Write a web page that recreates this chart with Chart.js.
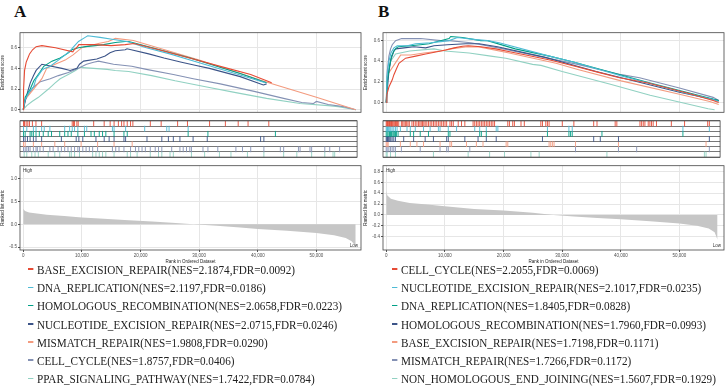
<!DOCTYPE html>
<html>
<head>
<meta charset="utf-8">
<script src="https://cdn.jsdelivr.net/npm/chart.js@4.4.1/dist/chart.umd.min.js"></script>
<style>
  body { margin: 0; width: 726px; height: 390px; background: #fff; position: relative; overflow: hidden; font-family: "Liberation Serif", serif; }
  canvas { position: absolute; }
  .tag { position: absolute; font-weight: bold; font-size: 17px; line-height: 17px; color: #111; }
  .leg { position: absolute; font-size: 12.5px; line-height: 14px; color: #222; white-space: nowrap; transform: scaleX(0.895); transform-origin: 0 50%; }
  .leg i { display: inline-block; width: 5.5px; height: 1.6px; margin-right: 4.5px; vertical-align: 4px; }
</style>
</head>
<body>
<div class="tag" style="left:14px;top:3px">A</div>
<div class="tag" style="left:378px;top:3px">B</div>

<canvas id="esA" width="362" height="87" style="left:0;top:29px"></canvas>
<canvas id="hitsA" width="362" height="46" style="left:0;top:116px"></canvas>
<canvas id="rankA" width="362" height="102" style="left:0;top:162px"></canvas>

<canvas id="esB" width="362" height="87" style="left:363px;top:29px"></canvas>
<canvas id="hitsB" width="362" height="46" style="left:363px;top:116px"></canvas>
<canvas id="rankB" width="362" height="102" style="left:363px;top:162px"></canvas>

<div id="legA"></div>
<div id="legB"></div>

<script>
// ---- shared ----
const colours = ['#E64B35', '#4DBBD5', '#00A087', '#3C5488', '#F39B7F', '#8491B4', '#91D1C2'];
const xTicks = [0, 10000, 20000, 30000, 40000, 50000];
const esTicks = [0, 0.2, 0.4, 0.6];
const rankTicksA = [-0.5, 0, 0.5, 1.0];
const rankTicksB = [-0.4, -0.2, 0, 0.2, 0.4, 0.6, 0.8];

// ---- panel A ----
const namesA = ['BASE_EXCISION_REPAIR', 'DNA_REPLICATION', 'HOMOLOGOUS_RECOMBINATION', 'NUCLEOTIDE_EXCISION_REPAIR', 'MISMATCH_REPAIR', 'CELL_CYCLE', 'PPAR_SIGNALING_PATHWAY'];
const nesA = ['2.1874', '2.1197', '2.0658', '2.0715', '1.9808', '1.8757', '1.7422'];
const fdrA = ['0.0092', '0.0186', '0.0223', '0.0246', '0.0290', '0.0406', '0.0784'];

const esA_BER = [[0,0],[60,0.2],[230,0.38],[510,0.46],[800,0.5],[1080,0.54],[1590,0.58],[2200,0.61],[3180,0.62],[5500,0.6],[8460,0.56],[8690,0.58],[9260,0.61],[9490,0.63],[12160,0.63],[15000,0.62],[17380,0.63],[18920,0.64],[23800,0.57],[28340,0.5],[34880,0.4],[38790,0.34],[42370,0.26]];
const esA_DNA = [[0,0],[340,0.1],[1000,0.17],[1760,0.22],[2200,0.3],[3180,0.38],[3640,0.4],[4600,0.42],[6000,0.48],[7160,0.53],[8000,0.57],[8460,0.6],[9430,0.66],[10560,0.7],[11000,0.715],[13100,0.7],[15400,0.68],[17700,0.66],[21000,0.6],[25000,0.54],[28460,0.48],[35000,0.37],[41300,0.26]];
const esA_HR = [[0,0],[340,0.12],[1200,0.2],[1800,0.28],[2800,0.36],[3500,0.42],[4900,0.47],[6300,0.5],[7700,0.55],[8300,0.58],[9400,0.6],[10600,0.61],[12300,0.62],[13700,0.63],[15700,0.65],[17400,0.66],[18000,0.66],[22000,0.6],[28500,0.5],[31900,0.44],[37000,0.35],[41500,0.26]];
const esA_NER = [[0,0],[340,0.08],[740,0.17],[1200,0.26],[1760,0.33],[2200,0.38],[3180,0.44],[6600,0.4],[8000,0.38],[9150,0.4],[9600,0.44],[10300,0.47],[12550,0.49],[13970,0.52],[14800,0.55],[15700,0.57],[17400,0.58],[17700,0.59],[21400,0.54],[24000,0.5],[27000,0.46],[29300,0.43],[31750,0.4],[37000,0.32],[40950,0.24],[41500,0.25]];
const esA_MMR = [[0,0],[340,0.1],[1760,0.2],[3180,0.3],[4000,0.4],[5450,0.44],[7150,0.48],[8500,0.53],[10000,0.6],[12800,0.64],[14500,0.66],[15700,0.69],[18800,0.67],[30000,0.48],[41300,0.27],[50000,0.12],[56700,0]];
const esA_CC = [[0,0],[340,0.1],[900,0.15],[1760,0.22],[2900,0.27],[4600,0.3],[6000,0.33],[7700,0.36],[9400,0.4],[10800,0.44],[12000,0.46],[12840,0.47],[15400,0.44],[18500,0.42],[21000,0.39],[25600,0.34],[29000,0.3],[33600,0.25],[39200,0.18],[44400,0.11],[47500,0.07],[49500,0.06],[50000,0.08],[52000,0.05],[54600,0.03],[56700,0]];
const esA_PPAR = [[0,0],[600,0.04],[1500,0.08],[2600,0.12],[4300,0.2],[5450,0.26],[6300,0.3],[8000,0.35],[8900,0.38],[9700,0.41],[12000,0.4],[14300,0.39],[15700,0.38],[18000,0.37],[21900,0.33],[25900,0.28],[31300,0.22],[35800,0.17],[41500,0.11],[47200,0.06],[52000,0.04],[53700,0.03],[56700,0]];

const hitsA_BER = [60,230,510,800,1080,1590,2200,3180,8460,8690,8860,9260,9490,12160,13970,15000,15680,16420,16980,17380,17950,18520,18920,21930,23800,26640,28340,32150,34880,37090,38790,42370];
const hitsA_DNA = [57,625,1761,2215,3181,3635,4601,7157,8009,8463,8861,9429,10565,10963,15393,15677,17665,20959,24765,25163,28457];
const hitsA_HR = [57,341,1193,1477,1761,2215,2783,3465,4317,4885,6305,7157,7725,8293,9429,10565,11701,12269,13121,13689,14257,15677,17381,17949,28457,31865,43509];
const hitsA_NER = [57,341,739,1193,1761,2215,3181,6589,9145,9599,10281,12553,13973,14825,15677,17381,17665,21357,23913,25049,25901,27037,29309,31751,40953,41521];
const hitsA_MMR = [57,341,1761,3181,5453,7157,9997,12837,15677,18800];
const hitsA_CC = [57,341,625,909,1193,1761,2215,2443,2897,3465,4601,5169,6021,6589,7157,7725,8293,8861,9429,9713,10281,10849,11417,11985,12837,15393,15961,16529,17381,18517,19369,19937,20505,21073,21925,22777,23345,23913,25617,27037,27605,28173,28741,29025,31013,31865,33569,36693,37829,39249,41521,44361,44929,47485,47769,49473,49757,52029,52881,54585];
const hitsA_PPAR = [171,625,1477,2045,2613,4317,5453,6305,8009,8293,8861,9713,11985,12553,13121,13689,14257,15677,17949,18517,19653,21925,23345,23913,25333,25901,29025,31297,33853,35841,38681,41521,44929,47201,49757,52029,53449,53733];

const rankA = [[0,0.34],[300,0.29],[1000,0.26],[2000,0.24],[4000,0.21],[7000,0.18],[10000,0.15],[13000,0.13],[18000,0.09],[22000,0.06],[26000,0.03],[29000,0],[33000,-0.03],[37000,-0.07],[40000,-0.1],[45000,-0.14],[50000,-0.19],[53000,-0.24],[55000,-0.3],[56000,-0.37],[56700,-0.48]];

// ---- panel B ----
const namesB = ['CELL_CYCLE', 'NUCLEOTIDE_EXCISION_REPAIR', 'DNA_REPLICATION', 'HOMOLOGOUS_RECOMBINATION', 'BASE_EXCISION_REPAIR', 'MISMATCH_REPAIR', 'NON_HOMOLOGOUS_END_JOINING'];
const nesB = ['2.2055', '2.1017', '1.8405', '1.7960', '1.7198', '1.7266', '1.5607'];
const fdrB = ['0.0069', '0.0235', '0.0828', '0.0993', '0.1171', '0.1172', '0.1929'];

const esB_CC = [[0,0],[114,0.08],[456,0.15],[1026,0.22],[1311,0.27],[1767,0.33],[2166,0.38],[3306,0.43],[5016,0.45],[6726,0.47],[8436,0.49],[10146,0.51],[11571,0.53],[12996,0.545],[14000,0.55],[16131,0.54],[18696,0.52],[21261,0.49],[23826,0.46],[28101,0.41],[32376,0.35],[36366,0.29],[39786,0.24],[44631,0.19],[46626,0.16],[51471,0.09],[55746,0.02],[56700,0]];
const esB_NER = [[0,0],[114,0.25],[456,0.4],[798,0.48],[1311,0.53],[1881,0.55],[3591,0.55],[5016,0.57],[7581,0.58],[9291,0.59],[10716,0.6],[12141,0.63],[15276,0.61],[17271,0.6],[19266,0.58],[27816,0.45],[32091,0.39],[40000,0.26],[51186,0.09],[55746,0.03],[56700,0.01]];
const esB_DNA = [[0,0],[171,0.2],[570,0.35],[912,0.45],[1311,0.5],[1767,0.53],[2052,0.54],[4161,0.55],[5871,0.56],[7296,0.57],[10716,0.62],[11001,0.64],[13000,0.63],[16131,0.6],[17271,0.6],[22000,0.52],[27816,0.45],[32091,0.39],[37221,0.31],[45000,0.19],[51186,0.1],[56700,0.02]];
const esB_HR = [[0,0],[228,0.15],[456,0.3],[798,0.42],[1311,0.5],[1596,0.52],[3021,0.53],[4731,0.54],[6726,0.53],[8151,0.55],[10431,0.56],[13566,0.57],[15846,0.57],[18981,0.54],[26961,0.44],[35796,0.3],[40071,0.24],[50000,0.1],[55746,0.03],[56700,0.02]];
const esB_BER = [[0,0],[171,0.18],[342,0.28],[2451,0.46],[4161,0.46],[5301,0.47],[6441,0.48],[9291,0.5],[11001,0.52],[13851,0.54],[15561,0.54],[16701,0.53],[20976,0.48],[28956,0.38],[32661,0.32],[40071,0.21],[50000,0.08],[55176,0.01],[56700,-0.02]];
const esB_MMR = [[0,0],[171,0.3],[456,0.45],[741,0.52],[1026,0.56],[1596,0.6],[2622,0.62],[5871,0.62],[9291,0.6],[10716,0.6],[14421,0.58],[20000,0.52],[32661,0.37],[40071,0.27],[43206,0.24],[50000,0.14],[55746,0.05],[56700,0.02]];
const esB_NHEJ = [[0,0],[171,0.25],[741,0.4],[1596,0.47],[4000,0.5],[8151,0.52],[10000,0.5],[14136,0.48],[17841,0.45],[20406,0.43],[24966,0.37],[26391,0.36],[30000,0.3],[38076,0.18],[45000,0.07],[54891,-0.06],[56000,-0.07]];

const hitsB_CC = [0,114,228,342,456,570,684,798,912,1026,1140,1311,1482,1596,1767,1938,2166,2622,2850,3078,3306,3534,3762,3990,4446,4731,5016,5301,5586,5814,6042,6270,6498,6726,7011,7296,7581,7866,8151,8436,8721,9006,9291,9576,9861,10146,10431,11001,11286,11571,12426,12996,13566,14991,15276,15561,15846,16131,16416,16701,16986,17271,17556,17841,18126,18411,18696,20976,21261,21831,22116,23256,23826,26676,26961,27531,27816,28101,30381,32376,35796,36366,39501,39786,43776,44061,44346,44631,45201,45486,45771,46056,46626,49191,51471,55461,55746];
const hitsB_NER = [0,114,228,342,456,627,798,1026,1311,1596,1881,2451,3591,4161,5016,6441,7581,9006,9291,10716,12141,15276,16131,17271,18981,19266,27816,31521,32091,51186,55746];
const hitsB_DNA = [0,171,342,570,741,912,1140,1311,1482,1596,1767,2052,4161,4731,5871,7296,10716,11001,16131,16416,17271,27816,31521,31806,32091,37221,51186];
const hitsB_HR = [0,114,228,342,456,627,798,1026,1311,1596,3021,4731,6726,8151,10431,10716,13566,15846,17271,18981,26961,35796,36936,40071,55746];
const hitsB_BER = [0,171,342,2451,4161,5301,6441,9291,11001,11286,13851,15561,16701,20691,20976,28101,28386,28671,28956,32661,40071,55176];
const hitsB_MMR = [0,171,456,741,1026,1311,1596,2622,5871,9291,10431,10716,14421,32661,40071,43206,55746];
const hitsB_NHEJ = [0,171,741,1596,8151,14136,17841,20406,24966,26391,38076,54891,55176];

const rankB = [[0,0.44],[200,0.36],[800,0.3],[2000,0.26],[4000,0.22],[7000,0.19],[10000,0.16],[15000,0.11],[20000,0.08],[25000,0.04],[28500,0],[32000,-0.03],[36000,-0.06],[40000,-0.08],[45000,-0.12],[50000,-0.16],[53000,-0.2],[55000,-0.25],[56000,-0.32],[56500,-0.46]];

// ---- drawing ----
const xMin = -550, xMax = 57600;
const tinyFont = { family: 'Liberation Sans', size: 4.5 };
const gridColour = '#E6E6E6';

const frame = {
    id: 'frame',
    afterDraw(chart) {
        const { ctx, chartArea: a } = chart;
        ctx.save();
        ctx.strokeStyle = '#444';
        ctx.lineWidth = 0.8;
        ctx.strokeRect(a.left, a.top, a.right - a.left, a.bottom - a.top);
        ctx.restore();
    }
};

function fixedTicks(values) {
    return scale => { scale.ticks = values.map(v => ({ value: v })); };
}

function baseOptions() {
    return {
        animation: false,
        responsive: false,
        devicePixelRatio: 1,
        layout: { padding: { right: 1, top: 0, bottom: 0, left: 0 } },
        plugins: { legend: { display: false }, tooltip: { enabled: false } },
        elements: { point: { radius: 0 } }
    };
}

function drawEs(id, curves, yMin, yMax) {
    const options = baseOptions();
    options.scales = {
        x: {
            type: 'linear', min: xMin, max: xMax,
            afterBuildTicks: fixedTicks(xTicks),
            afterFit: s => { s.height = 0; },
            ticks: { display: false },
            grid: { color: gridColour, drawTicks: false },
            border: { display: false }
        },
        y: {
            min: yMin, max: yMax,
            afterBuildTicks: fixedTicks(esTicks),
            afterFit: s => { s.width = 20; },
            ticks: { font: tinyFont, color: '#4D4D4D', padding: 1, callback: v => v.toFixed(1) },
            grid: { color: gridColour, tickLength: 2, tickColor: '#555' },
            border: { display: false },
            title: { display: true, text: 'Enrichment score', font: tinyFont, color: '#222', padding: 0 }
        }
    };
    new Chart(document.getElementById(id), {
        type: 'line',
        data: {
            datasets: curves.map((c, i) => ({
                data: c.map(p => ({ x: p[0], y: p[1] })),
                borderColor: colours[i],
                borderWidth: 1.1,
                pointRadius: 0,
                fill: false
            }))
        },
        options: options,
        plugins: [frame]
    });
}

function drawHits(id, hits) {
    const options = baseOptions();
    options.scales = {
        x: {
            type: 'linear', min: xMin, max: xMax,
            afterFit: s => { s.height = 0; },
            ticks: { display: false },
            grid: { display: false },
            border: { display: false }
        },
        y: {
            min: 0, max: 7, reverse: true,
            afterBuildTicks: fixedTicks([0, 1, 2, 3, 4, 5, 6, 7]),
            afterFit: s => { s.width = 20; },
            ticks: { display: false },
            grid: { color: '#555', lineWidth: 0.8, drawTicks: false },
            border: { display: false }
        }
    };
    new Chart(document.getElementById(id), {
        type: 'scatter',
        data: {
            datasets: hits.map((h, i) => ({
                data: h.map(r => ({ x: r, y: i + 0.5 })),
                pointStyle: 'line',
                rotation: 90,
                pointRadius: 2.9,
                borderColor: colours[i],
                backgroundColor: colours[i],
                borderWidth: 0.9
            }))
        },
        options: options,
        plugins: [frame]
    });
}

function drawRank(id, values, yMin, yMax, ticks) {
    const options = baseOptions();
    options.scales = {
        x: {
            type: 'linear', min: xMin, max: xMax,
            afterBuildTicks: fixedTicks(xTicks),
            afterFit: s => { s.height = 14; },
            ticks: { font: tinyFont, color: '#4D4D4D', padding: 1, maxRotation: 0, callback: v => v.toLocaleString('en-US') },
            grid: { color: gridColour, tickLength: 2, tickColor: '#555' },
            border: { display: false },
            title: { display: true, text: 'Rank in Ordered Dataset', font: tinyFont, color: '#222', padding: 0 }
        },
        y: {
            min: yMin, max: yMax,
            afterBuildTicks: fixedTicks(ticks),
            afterFit: s => { s.width = 20; },
            ticks: { font: tinyFont, color: '#4D4D4D', padding: 1, callback: v => v.toFixed(1) },
            grid: { color: gridColour, tickLength: 2, tickColor: '#555' },
            border: { display: false },
            title: { display: true, text: 'Ranked list metric', font: tinyFont, color: '#222', padding: 0 }
        }
    };
    const highLow = {
        id: 'highLow',
        afterDraw(chart) {
            const { ctx, chartArea: a } = chart;
            ctx.save();
            ctx.font = '4.5px "Liberation Sans"';
            ctx.fillStyle = '#333';
            ctx.textBaseline = 'top';
            ctx.fillText('High', a.left + 3, a.top + 3);
            ctx.textAlign = 'right';
            ctx.textBaseline = 'bottom';
            ctx.fillText('Low', a.right - 3, a.bottom - 2);
            ctx.restore();
        }
    };
    new Chart(document.getElementById(id), {
        type: 'line',
        data: {
            datasets: [{
                data: values.map(p => ({ x: p[0], y: p[1] })),
                fill: 'origin',
                backgroundColor: '#C6C6C6',
                borderWidth: 0,
                pointRadius: 0
            }]
        },
        options: options,
        plugins: [frame, highLow]
    });
}

function drawLegend(id, left, names, nes, fdr) {
    const box = document.getElementById(id);
    names.forEach((n, i) => {
        const row = document.createElement('div');
        row.className = 'leg';
        row.style.left = left + 'px';
        row.style.top = (263 + i * 18.2) + 'px';
        row.innerHTML = '<i style="background:' + colours[i] + '"></i>' + n + '(NES=' + nes[i] + ',FDR=' + fdr[i] + ')';
        box.appendChild(row);
    });
}

drawEs('esA', [esA_BER, esA_DNA, esA_HR, esA_NER, esA_MMR, esA_CC, esA_PPAR], -0.025, 0.745);
drawHits('hitsA', [hitsA_BER, hitsA_DNA, hitsA_HR, hitsA_NER, hitsA_MMR, hitsA_CC, hitsA_PPAR]);
drawRank('rankA', rankA, -0.56, 1.28, rankTicksA);
drawLegend('legA', 28, namesA, nesA, fdrA);

drawEs('esB', [esB_CC, esB_NER, esB_DNA, esB_HR, esB_BER, esB_MMR, esB_NHEJ], -0.095, 0.677);
drawHits('hitsB', [hitsB_CC, hitsB_NER, hitsB_DNA, hitsB_HR, hitsB_BER, hitsB_MMR, hitsB_NHEJ]);
drawRank('rankB', rankB, -0.65, 0.91, rankTicksB);
drawLegend('legB', 392, namesB, nesB, fdrB);
</script>
</body>
</html>
